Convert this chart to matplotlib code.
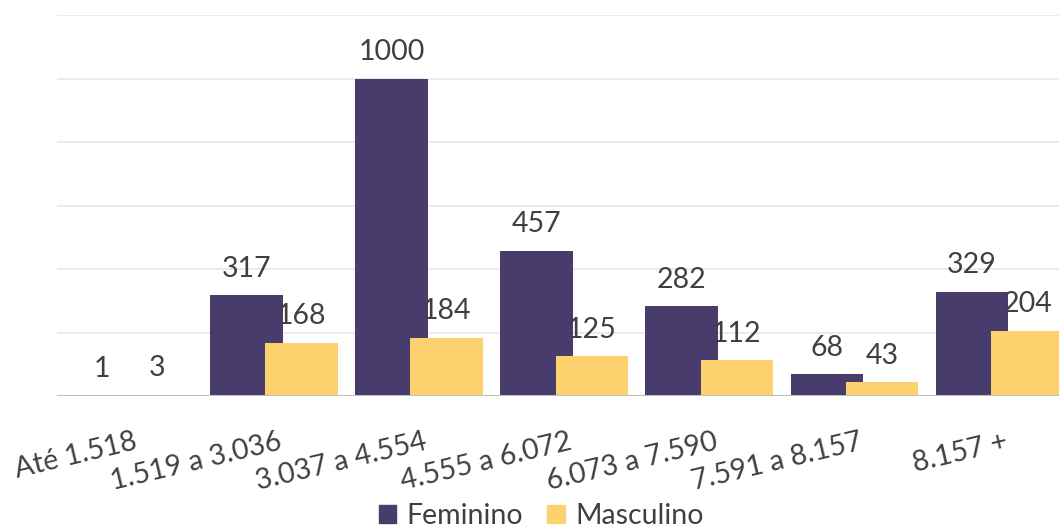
import matplotlib as mpl
mpl.use("Agg")
import matplotlib.pyplot as plt
from matplotlib.patches import Patch
import numpy as np

plt.rcParams['font.family'] = ['Lato', 'DejaVu Sans']

# faixas salariais
categories = ['Até 1.518', '1.519 a 3.036', '3.037 a 4.554', '4.555 a 6.072',
              '6.073 a 7.590', '7.591 a 8.157', '8.157 +']
feminino = [1, 317, 1000, 457, 282, 68, 329]
masculino = [3, 168, 184, 125, 112, 43, 204]
series_names = ['Feminino', 'Masculino']

c_fem = '#483C6C'
c_masc = '#FDD26E'
txt = '#404040'
fs = 20.5

fig = plt.figure(figsize=(10.59, 5.32), dpi=100)
# axes runs a bit past the right edge, like the original (last bar is cut)
ax = fig.add_axes([56.5 / 1059, (532 - 396) / 532, (1072 - 56.5) / 1059, (396 - 15) / 532])

x = np.arange(len(categories))
w = 0.50
off = 0.19

b1 = ax.bar(x - off, feminino, w, color=c_fem, zorder=2)
b2 = ax.bar(x + off, masculino, w, color=c_masc, zorder=3)

for bars, vals in [(b1, feminino), (b2, masculino)]:
    for r, v in zip(bars, vals):
        ax.annotate(str(v), (r.get_x() + r.get_width() / 2, r.get_height()),
                    xytext=(0, 13.5), textcoords='offset points',
                    ha='center', va='baseline', fontsize=fs, color=txt, zorder=5)

ax.set_xlim(-0.5, len(categories) - 0.5)
ax.set_ylim(0, 1200)
ax.set_yticks(np.arange(200, 1201, 200))
ax.yaxis.grid(True, color='#EBEBEB', linewidth=1.5, zorder=0)
ax.set_axisbelow(True)
ax.axhline(0, color='#BFBFBF', linewidth=2.2, zorder=4)

for s in ax.spines.values():
    s.set_visible(False)
ax.tick_params(axis='y', left=False, labelleft=False)
ax.tick_params(axis='x', bottom=False, pad=20)
ax.set_xticks(x + 0.03)
ax.set_xticklabels(categories, rotation=13.5, ha='right', rotation_mode='anchor',
                   fontsize=fs, color=txt)

handles = [Patch(color=c_fem), Patch(color=c_masc)]
fig.legend(handles, series_names, loc='center', bbox_to_anchor=(541 / 1059, 0.03),
           ncol=2, frameon=False, fontsize=fs, labelcolor=txt,
           handlelength=0.62, handleheight=0.62, handletextpad=0.36,
           columnspacing=0.84, borderpad=0)

plt.savefig('out.png', dpi=100)
